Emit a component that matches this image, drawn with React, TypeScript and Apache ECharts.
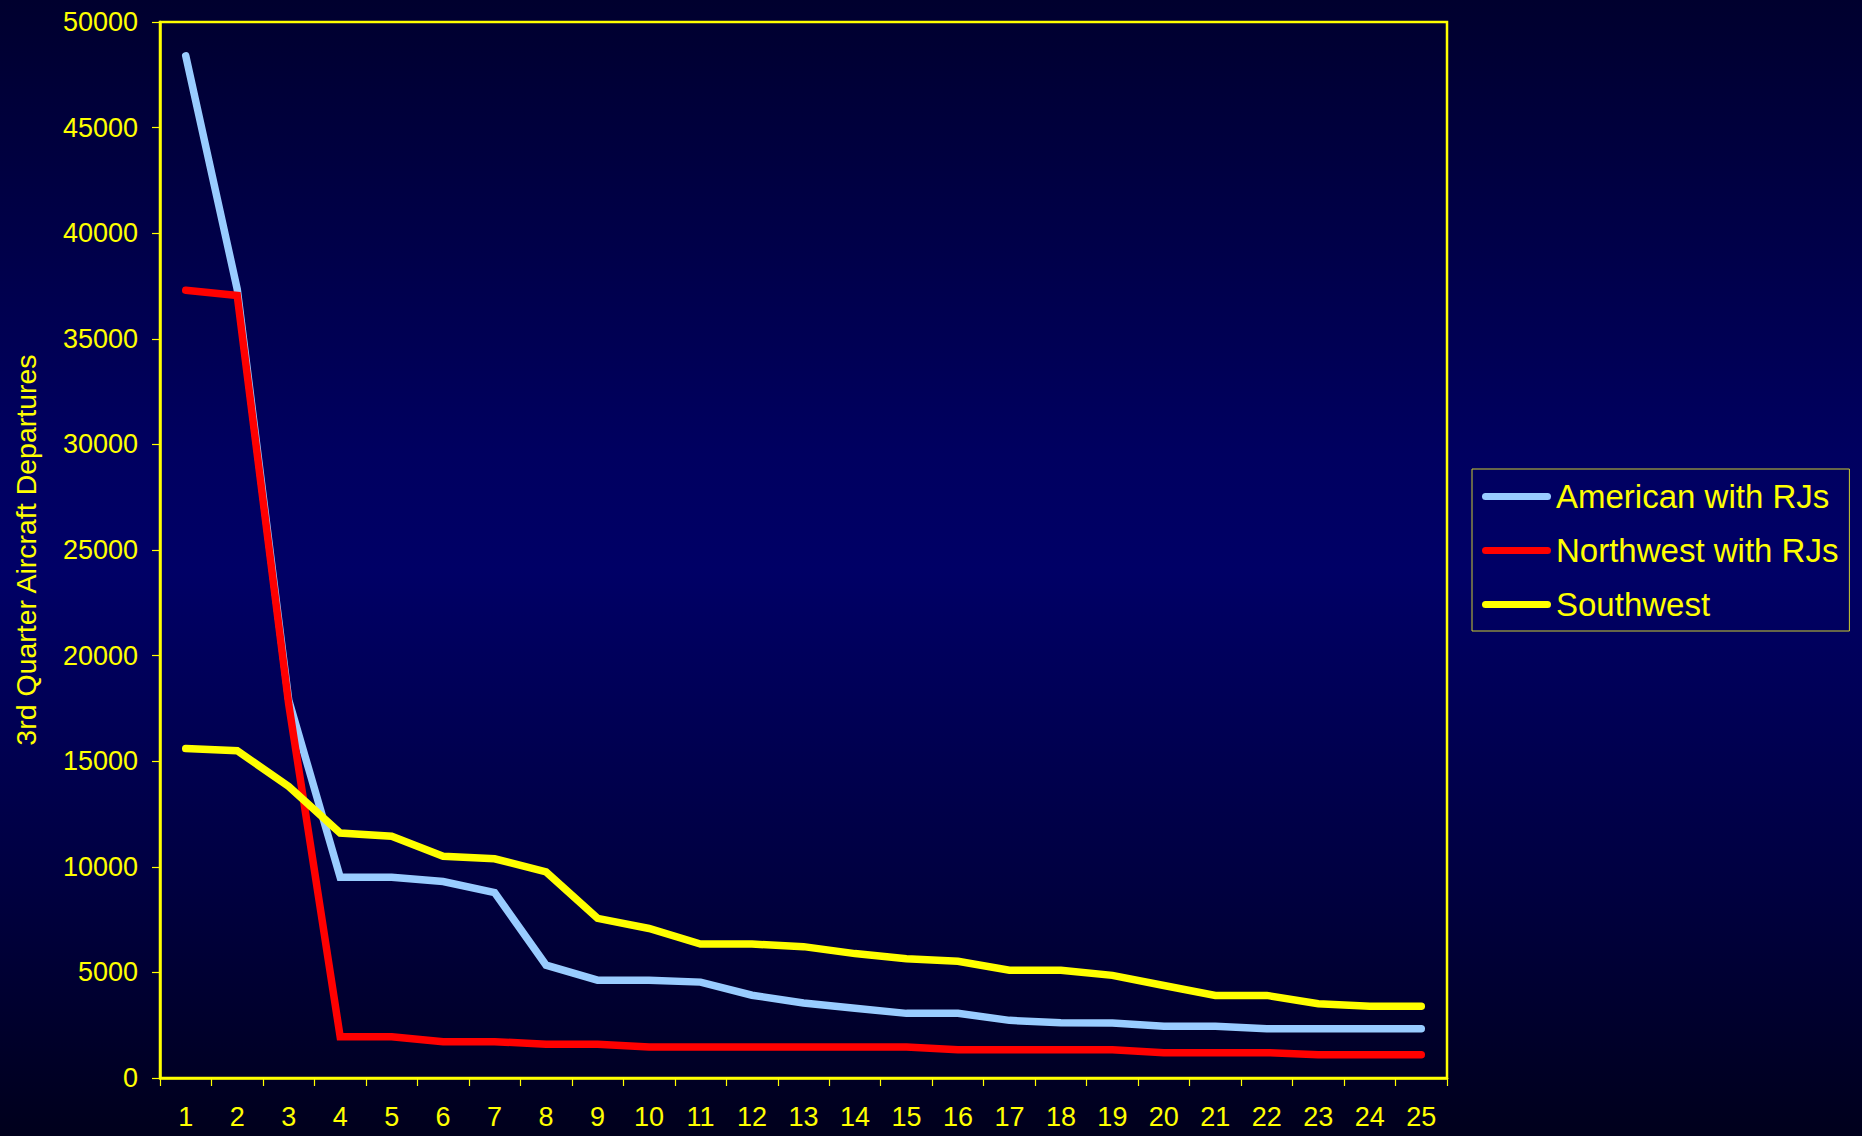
import React, { useEffect, useRef } from "react";
import * as echarts from "echarts";

const categories = ["1","2","3","4","5","6","7","8","9","10","11","12","13","14","15","16","17","18","19","20","21","22","23","24","25"];
const seriesNames = ["American with RJs", "Northwest with RJs", "Southwest"];
const american = [48400, 37350, 17900, 9500, 9500, 9300, 8780, 5340, 4630, 4630, 4540, 3920, 3550, 3300, 3060, 3060, 2730, 2620, 2600, 2450, 2450, 2330, 2330, 2330, 2330];
const northwest = [37300, 37050, 17700, 1950, 1950, 1720, 1720, 1600, 1600, 1470, 1470, 1470, 1470, 1470, 1470, 1340, 1340, 1340, 1340, 1200, 1200, 1200, 1100, 1100, 1100];
const southwest = [15600, 15500, 13800, 11600, 11450, 10500, 10380, 9760, 7560, 7080, 6340, 6340, 6220, 5890, 5650, 5530, 5100, 5100, 4860, 4380, 3910, 3910, 3520, 3400, 3400];
const seriesColors = ["#99CCFF", "#FF0000", "#FFFF00"];
const yAxisName = "3rd Quarter Aircraft Departures";

const FONT = "'Liberation Sans', Arial, sans-serif";
const YELLOW = "#FFFF00";

export default function App() {
  const ref = useRef<HTMLDivElement>(null);
  useEffect(() => {
    if (!ref.current) return;
    const chart = echarts.init(ref.current, null, { renderer: "svg" });
    const values = [american, northwest, southwest];
    chart.setOption({
      animation: false,
      backgroundColor: "transparent",
      textStyle: { fontFamily: FONT },
      grid: {
        left: 160,
        right: 415,
        top: 22,
        bottom: 58,
        show: true,
        borderColor: YELLOW,
        borderWidth: 2.5,
        backgroundColor: "transparent",
        outerBoundsMode: "none",
      },
      legend: {
        orient: "vertical",
        left: 1472,
        top: 469,
        padding: [11, 11, 10, 10],
        itemGap: 21,
        itemWidth: 69,
        itemHeight: 7,
        icon: "path://M3.5,0H65.5A3.5,3.5,0,0,1,65.5,7H3.5A3.5,3.5,0,0,1,3.5,0Z",
        itemStyle: { borderWidth: 0 },
        borderColor: "#CCCC33",
        borderWidth: 1,
        borderRadius: 0,
        textStyle: { color: YELLOW, fontSize: 33, fontFamily: FONT },
        data: seriesNames,
      },
      xAxis: {
        type: "category",
        data: categories,
        boundaryGap: true,
        axisLine: { show: true, lineStyle: { color: YELLOW, width: 2.5 } },
        axisTick: { show: true, interval: 0, length: 8, inside: false, lineStyle: { color: YELLOW, width: 1.2 } },
        axisLabel: { interval: 0, color: YELLOW, fontSize: 27, margin: 25, fontFamily: FONT },
        splitLine: { show: false },
      },
      yAxis: {
        type: "value",
        min: 0,
        max: 50000,
        interval: 5000,
        name: yAxisName,
        nameLocation: "middle",
        nameGap: 120,
        nameRotate: 90,
        nameTextStyle: { color: YELLOW, fontSize: 28.5, fontFamily: FONT },
        axisLine: { show: true, lineStyle: { color: YELLOW, width: 2.5 } },
        axisTick: { show: true, length: 8, inside: false, lineStyle: { color: YELLOW, width: 1.2 } },
        axisLabel: {
          color: YELLOW,
          fontSize: 27,
          margin: 22,
          fontFamily: FONT,
          formatter: (v: number) => String(v),
        },
        splitLine: { show: false },
      },
      series: seriesNames.map((name, i) => ({
        name,
        type: "line",
        data: values[i],
        symbol: "none",
        showSymbol: false,
        itemStyle: { color: seriesColors[i] },
        lineStyle: { color: seriesColors[i], width: 7.5, cap: "round", join: "miter" },
      })),
    });
    return () => chart.dispose();
  }, []);
  return (
    <div
      ref={ref}
      style={{
        position: "fixed",
        left: 0,
        top: 0,
        width: "100vw",
        height: "100vh",
        background: "linear-gradient(to bottom, #00002e 0%, #000060 40%, #000066 50%, #000040 78%, #00001c 100%)",
      }}
    />
  );
}
